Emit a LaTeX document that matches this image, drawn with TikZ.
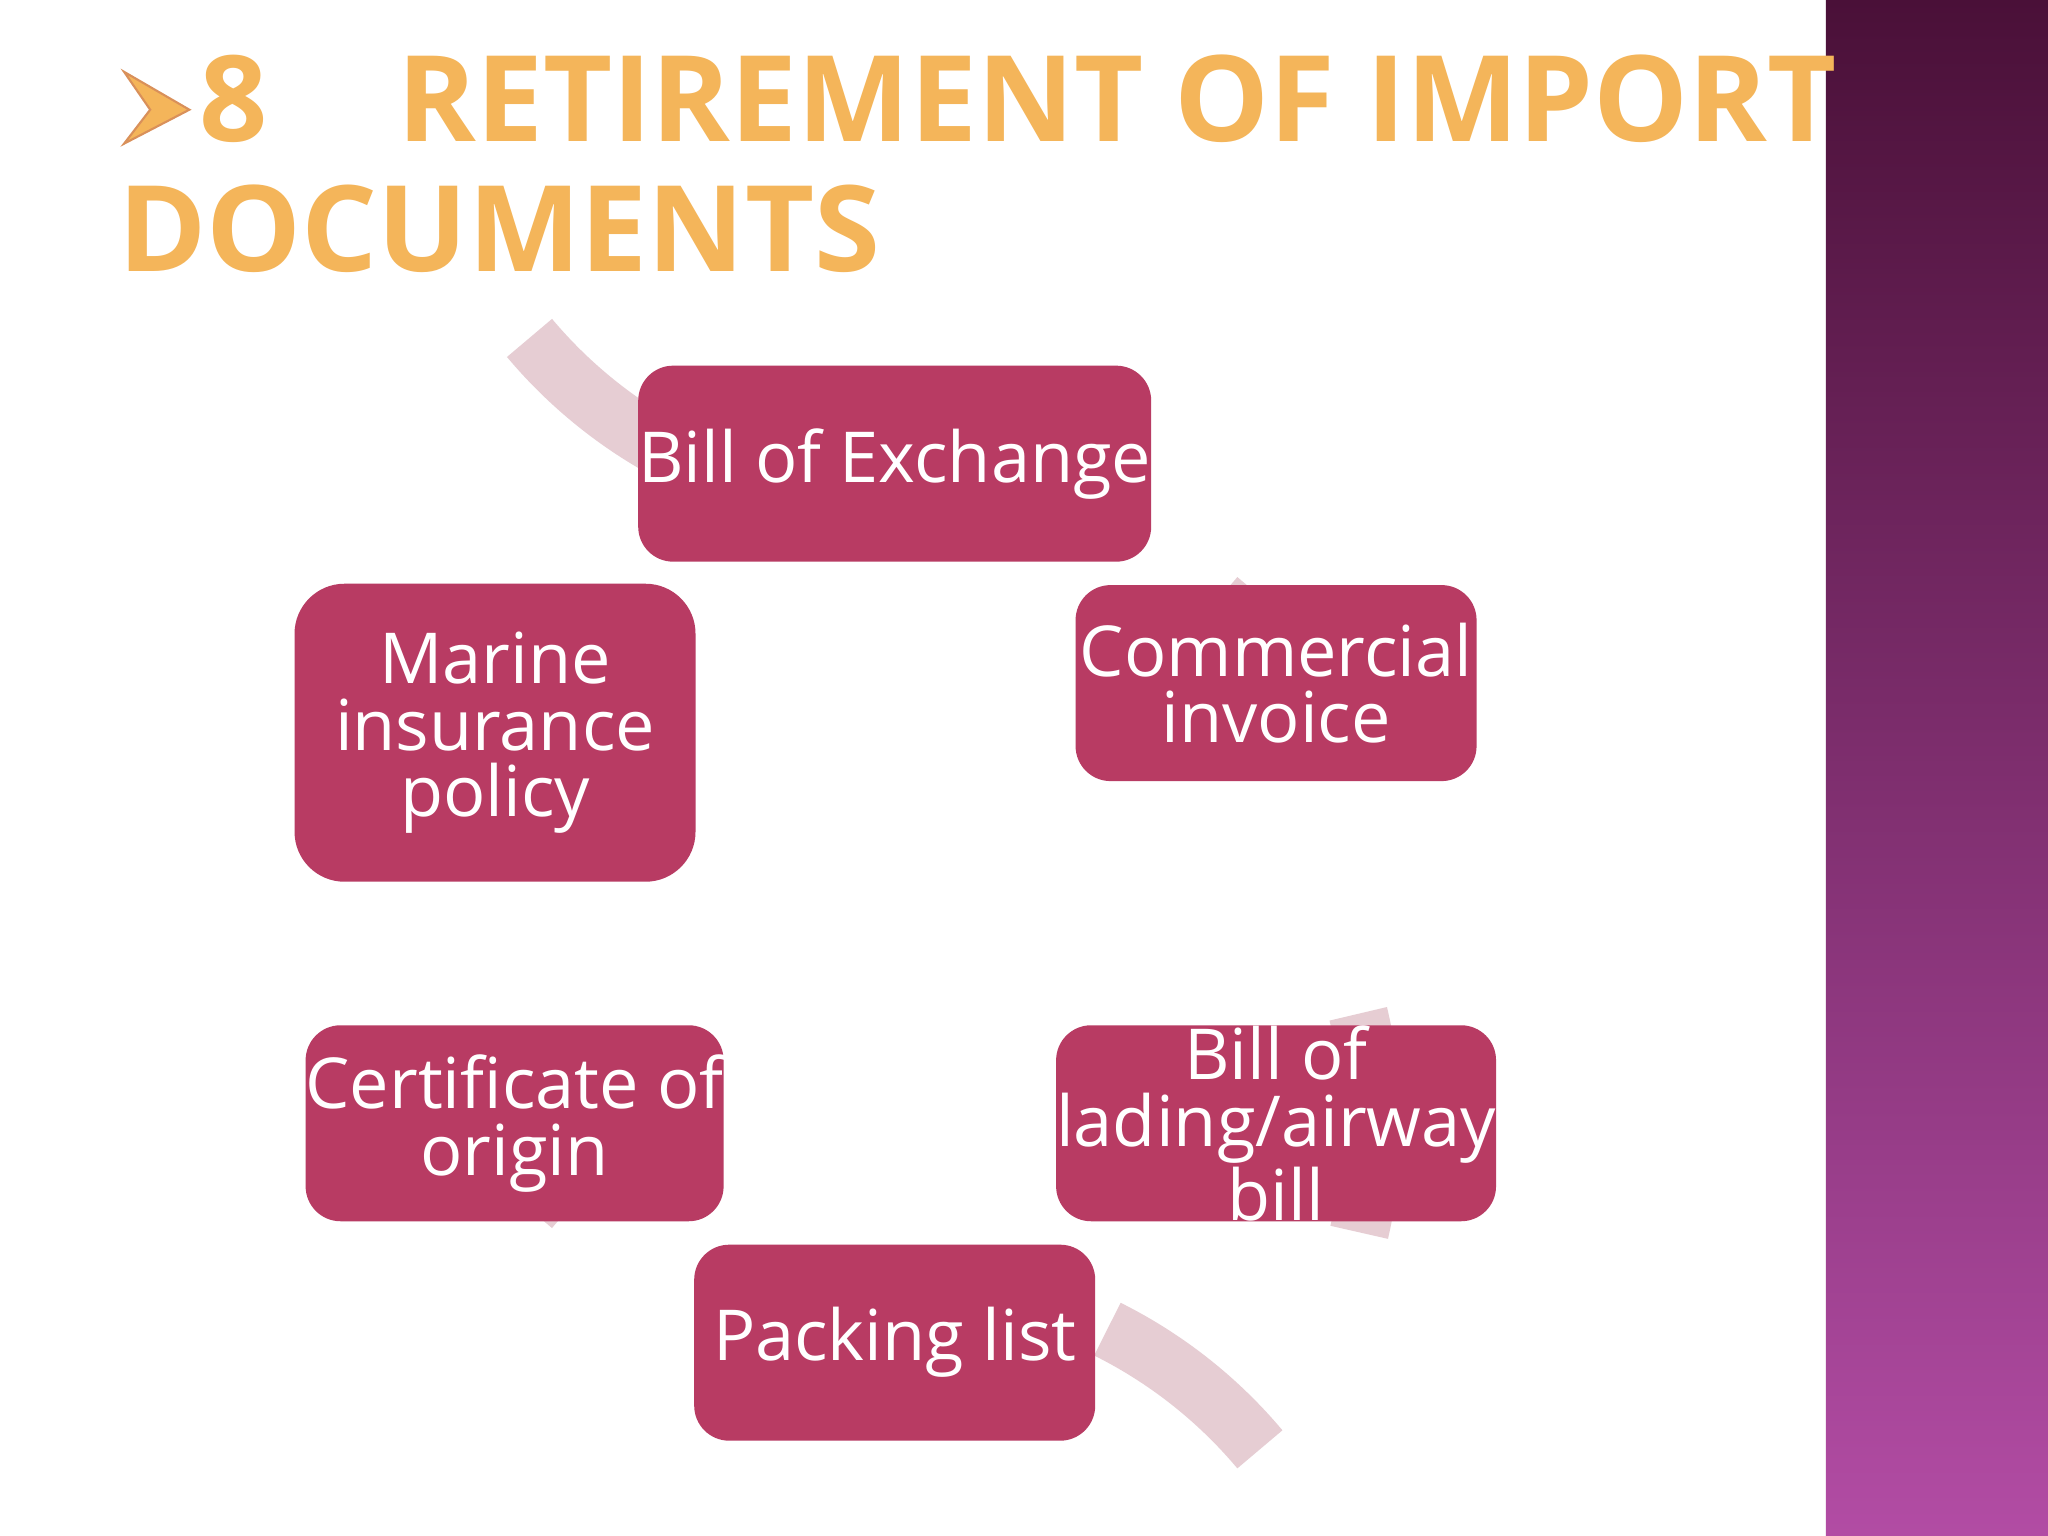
\documentclass[tikz,border=0pt]{standalone}
\usepackage{fontspec}
\setmainfont{Open Sans}
\usetikzlibrary{arrows.meta,calc}
\definecolor{boxc}{HTML}{B83B63}
\definecolor{ringc}{HTML}{E6CDD3}
\definecolor{titlec}{HTML}{F4B55A}
\definecolor{titleo}{HTML}{D9905A}
\definecolor{bandtop}{HTML}{4A1038}
\definecolor{bandbot}{HTML}{B24CA4}
\begin{document}
\begin{tikzpicture}[x=0.013061cm,y=-0.013061cm,
  box/.style={draw=none,fill=boxc,rounded corners=0.35cm,text=white,align=center,
    font=\fontsize{20}{19}\selectfont,inner sep=0pt},
  ring/.style={draw=ringc,line width=0.59cm},
  ttl/.style={text=titlec,font=\fontsize{34}{34}\selectfont\bfseries,anchor=base west,inner sep=0pt}]
\useasboundingbox (0,0) rectangle (1568,1176);
\fill[white] (0,0) rectangle (1568,1176);
\shade[top color=bandtop,bottom color=bandbot] (1398,0) rectangle (1568,1176);
% title
\draw[titleo,fill=titlec,line width=0.6pt] (95,55) -- (145,84) -- (95,110) -- (115,84) -- cycle;
\node[ttl] (t1) at (152,108) {8\hspace{1.3cm}RETIREMENT OF IMPORT};
\node[ttl] (t2) at (90,208) {DOCUMENTS};
% ring
\coordinate (c) at (685,691);
\draw[ring] ($(c)+(63.5:365)$) arc[start angle=63.5,end angle=40,radius=4.767cm];
\draw[ring] ($(c)+(13.5:365)$) arc[start angle=13.5,end angle=-13,radius=4.767cm];
\draw[ring] ($(c)+(-40:365)$) arc[start angle=-40,end angle=-65,radius=4.767cm];
\draw[ring] ($(c)+(-114:365)$) arc[start angle=-114,end angle=-140,radius=4.767cm];
\draw[ring] ($(c)+(-167:365)$) arc[start angle=-167,end angle=-182,radius=4.767cm];
\draw[ring,-{Triangle[width=1.35cm,length=0.65cm]}] ($(c)+(140:365)$) arc[start angle=140,end angle=120,radius=4.767cm];
% boxes
\node[box,minimum width=4.01cm,minimum height=1.96cm] (b1) at (685,355) {Bill of Exchange};
\node[box,minimum width=4.01cm,minimum height=1.96cm] (b2) at (977,523) {Commercial\\invoice};
\node[box,minimum width=4.01cm,minimum height=1.96cm] (b3) at (977,860) {Bill of\\lading/airway\\bill};
\node[box,minimum width=4.01cm,minimum height=1.96cm] (b4) at (685,1028) {Packing list};
\node[box,minimum width=4.01cm,minimum height=1.96cm] (b5) at (394,860) {Certificate of\\origin};
\node[box,minimum width=4.01cm,minimum height=2.98cm,rounded corners=0.5cm] (b6) at (379,561) {Marine\\insurance\\policy};
\end{tikzpicture}
\end{document}
